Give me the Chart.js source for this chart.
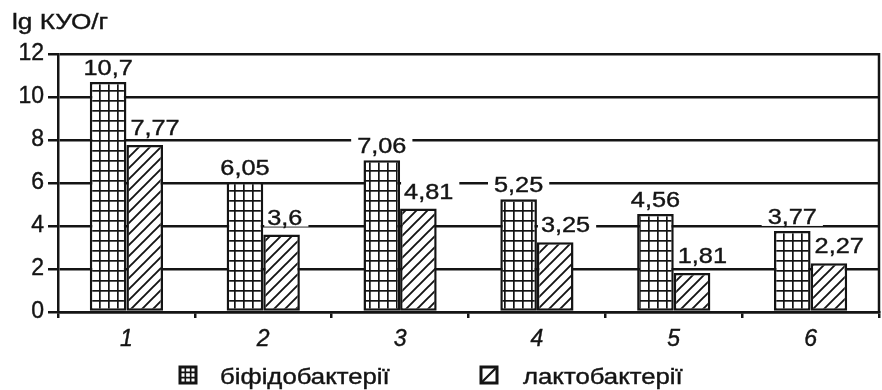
<!DOCTYPE html>
<html>
<head>
<meta charset="utf-8">
<script src="https://cdn.jsdelivr.net/npm/chart.js@4/dist/chart.umd.min.js"></script>
<style>
  html, body { margin: 0; padding: 0; background: #fff; }
  #wrap { width: 882px; height: 390px; }
</style>
</head>
<body>
<div id="wrap"><canvas id="c" width="882" height="390"></canvas></div>
<script>
// Samples and measured counts (lg КУО/г)
const categories = ['1', '2', '3', '4', '5', '6'];
const bifidoValues = [10.7, 6.05, 7.06, 5.25, 4.56, 3.77];
const lactoValues = [7.77, 3.6, 4.81, 3.25, 1.81, 2.27];
const seriesNames = ['біфідобактерії', 'лактобактерії'];
const yTickValues = [0, 2, 4, 6, 8, 10, 12];
const axisTitle = 'lg КУО/г';

const FONT = '"Liberation Sans", Arial, Helvetica, sans-serif';
const INK = '#141414';
const TEXT_STROKE = 0.4;

const canvas = document.getElementById('c');
const ctx = canvas.getContext('2d');

// Square-grid fill for the first series
function makeGridPattern() {
  const t = document.createElement('canvas');
  t.width = 9; t.height = 10;
  const g = t.getContext('2d');
  g.fillStyle = '#fff'; g.fillRect(0, 0, 9, 10);
  g.fillStyle = INK;
  g.fillRect(0, 0, 1.7, 10);
  g.fillRect(0, 0, 9, 1.7);
  return ctx.createPattern(t, 'repeat');
}

// Diagonal "/" hatch for the second series
function makeHatchPattern() {
  const s = 11;
  const t = document.createElement('canvas');
  t.width = s; t.height = s;
  const g = t.getContext('2d');
  g.fillStyle = '#fff'; g.fillRect(0, 0, s, s);
  g.strokeStyle = INK; g.lineWidth = 1.9;
  g.beginPath();
  g.moveTo(-1, s + 1); g.lineTo(s + 1, -1);
  g.moveTo(-2, 2); g.lineTo(2, -2);
  g.moveTo(s - 2, s + 2); g.lineTo(s + 2, s - 2);
  g.stroke();
  return ctx.createPattern(t, 'repeat');
}

const gridFill = makeGridPattern();
const hatchFill = makeHatchPattern();

// Text set slightly wide, like the face used in the figure
function drawWideText(c, txt, x, y, size, stretch) {
  c.save();
  c.font = size + 'px ' + FONT;
  c.textBaseline = 'alphabetic';
  c.translate(x, y);
  c.scale(stretch, 1);
  c.fillStyle = INK;
  c.strokeStyle = INK;
  c.lineWidth = TEXT_STROKE;
  c.fillText(txt, 0, 0);
  c.strokeText(txt, 0, 0);
  c.restore();
}
function wideWidth(c, txt, size, stretch) {
  c.save();
  c.font = size + 'px ' + FONT;
  const w = c.measureText(txt).width * stretch;
  c.restore();
  return w;
}

const LABEL_SIZE = 22, LABEL_STRETCH = 1.15;

// Value labels on white plates above each bar
const valueLabels = {
  id: 'valueLabels',
  afterDatasetsDraw(chart) {
    const c = chart.ctx;
    chart.data.datasets.forEach((ds, di) => {
      const meta = chart.getDatasetMeta(di);
      meta.data.forEach((bar, i) => {
        const txt = String(ds.data[i]).replace('.', ',');
        const w = wideWidth(c, txt, LABEL_SIZE, LABEL_STRETCH);
        const left = di === 0 ? bar.x - w / 2 : bar.x - bar.width / 2 + 4;
        const base = bar.y - (di === 0 ? 7 : 10);
        c.save();
        c.fillStyle = '#fff';
        if (di === 0) c.fillRect(left - 6, base - 17, w + 12, 19);
        else c.fillRect(left - 3, base - 17, w + 9, 19);
        c.restore();
        drawWideText(c, txt, left, base, LABEL_SIZE, LABEL_STRETCH);
      });
    });
  }
};

// Axis title, right frame line and the legend beneath the axis
const decorations = {
  id: 'decorations',
  afterDraw(chart) {
    const c = chart.ctx;
    const a = chart.chartArea;
    c.save();
    c.strokeStyle = INK;
    c.lineWidth = 2.5;
    c.beginPath();
    c.moveTo(a.right, a.top - 1);
    c.lineTo(a.right, a.bottom + 1);
    c.stroke();
    c.restore();

    drawWideText(c, axisTitle, 12, 29, 22, 1.19);

    const sy = 367, sz = 16;
    // legend: grid swatch
    let sx = 180;
    c.save();
    c.strokeStyle = INK;
    c.fillStyle = '#fff';
    c.fillRect(sx, sy, sz, sz);
    c.lineWidth = 1.6;
    c.beginPath();
    c.moveTo(sx + sz / 3, sy); c.lineTo(sx + sz / 3, sy + sz);
    c.moveTo(sx + 2 * sz / 3, sy); c.lineTo(sx + 2 * sz / 3, sy + sz);
    c.moveTo(sx, sy + sz / 3); c.lineTo(sx + sz, sy + sz / 3);
    c.moveTo(sx, sy + 2 * sz / 3); c.lineTo(sx + sz, sy + 2 * sz / 3);
    c.stroke();
    c.lineWidth = 3;
    c.strokeRect(sx, sy, sz, sz);

    // legend: hatch swatch
    sx = 481;
    c.fillStyle = '#fff';
    c.fillRect(sx, sy, sz, sz);
    c.lineWidth = 2.2;
    c.beginPath();
    c.moveTo(sx + 1, sy + sz - 1); c.lineTo(sx + sz - 1, sy + 1);
    c.stroke();
    c.lineWidth = 3;
    c.strokeRect(sx, sy, sz, sz);
    c.restore();

    drawWideText(c, chart.data.datasets[0].label, 220, 384, 22, 1.17);
    drawWideText(c, chart.data.datasets[1].label, 523, 384, 22, 1.17);
  }
};

new Chart(ctx, {
  type: 'bar',
  data: {
    labels: categories,
    datasets: [
      { label: seriesNames[0], data: bifidoValues, backgroundColor: gridFill,
        borderColor: INK, borderWidth: 2.5, borderSkipped: false },
      { label: seriesNames[1], data: lactoValues, backgroundColor: hatchFill,
        borderColor: INK, borderWidth: 2.5, borderSkipped: false }
    ]
  },
  options: {
    responsive: false,
    animation: false,
    devicePixelRatio: 1,
    layout: { padding: { top: 54, right: 3, bottom: 38, left: 0 } },
    datasets: { bar: { barPercentage: 1, categoryPercentage: 0.535 } },
    plugins: { legend: { display: false }, tooltip: { enabled: false } },
    scales: {
      x: {
        grid: { offset: true, drawOnChartArea: false, drawTicks: true, tickLength: 6,
                color: INK, lineWidth: 2.5 },
        border: { color: INK, width: 2.5 },
        ticks: { color: INK, padding: 8, textStrokeColor: INK, textStrokeWidth: TEXT_STROKE,
                 font: { family: FONT, size: 23, style: 'italic' } },
        afterFit(s) { s.height = 40; }
      },
      y: {
        min: 0, max: 12,
        afterBuildTicks(s) { s.ticks = yTickValues.map(v => ({ value: v })); },
        grid: { color: INK, lineWidth: 2.5, tickLength: 10 },
        border: { color: INK, width: 2.5 },
        ticks: { color: INK, padding: 4, textStrokeColor: INK, textStrokeWidth: TEXT_STROKE,
                 font: { family: FONT, size: 23 } },
        afterFit(s) { s.width = 58; }
      }
    }
  },
  plugins: [valueLabels, decorations]
});
</script>
</body>
</html>
